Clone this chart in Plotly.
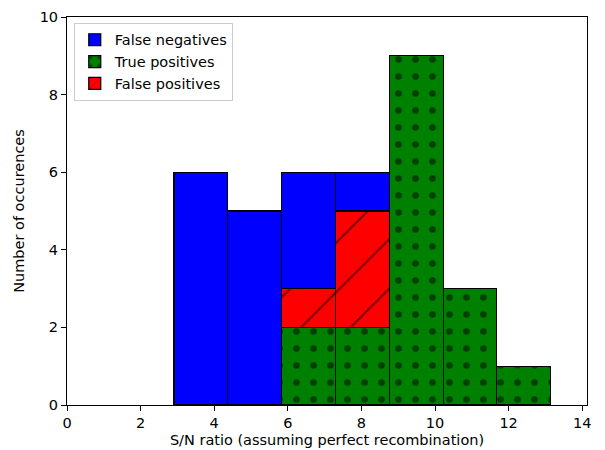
import plotly.graph_objects as go

bin_edges = [2.91, 4.37, 5.83, 7.30, 8.76, 10.22, 11.68, 13.14]
false_negatives = [6, 5, 3, 1, 0, 0, 0]
true_positives = [0, 0, 2, 2, 9, 3, 1]
false_positives = [0, 0, 1, 3, 0, 0, 0]

centers = [(a + b) / 2 for a, b in zip(bin_edges[:-1], bin_edges[1:])]
widths = [b - a for a, b in zip(bin_edges[:-1], bin_edges[1:])]

font = "DejaVu Sans"
fs = 14.5
fig = go.Figure()
fig.add_trace(go.Bar(
    x=centers, y=true_positives, width=widths, name="True positives", legendrank=2,
    marker=dict(color="#008000", line=dict(color="black", width=1.2),
                pattern=dict(shape=".", bgcolor="#008000", fgcolor="black",
                             size=17, solidity=0.12)),
))
fig.add_trace(go.Bar(
    x=centers, y=false_positives, width=widths, name="False positives", legendrank=3,
    marker=dict(color="#ff0000", line=dict(color="black", width=1.2),
                pattern=dict(shape="/", bgcolor="#ff0000", fgcolor="black",
                             size=35, solidity=0.06)),
))
fig.add_trace(go.Bar(
    x=centers, y=false_negatives, width=widths, name="False negatives", legendrank=1,
    marker=dict(color="#0000ff", line=dict(color="black", width=1.2)),
))

fig.update_layout(
    barmode="stack",
    width=597, height=442,
    margin=dict(l=59, r=18, t=9, b=45),
    paper_bgcolor="white", plot_bgcolor="white",
    font=dict(family=font, size=fs, color="black"),
    legend=dict(x=0.013, y=0.985, xanchor="left", yanchor="top",
                bgcolor="rgba(255,255,255,0.8)", bordercolor="#cccccc", borderwidth=1,
                traceorder="normal", font=dict(size=fs), itemwidth=30,
                tracegroupgap=0),
    xaxis=dict(range=[0, 14.13], tickvals=[0, 2, 4, 6, 8, 10, 12, 14],
               showline=True, mirror=True, linecolor="black", linewidth=1,
               ticks="outside", ticklen=5, tickcolor="black", showgrid=False, zeroline=False,
               automargin=False, tickfont=dict(size=fs),
               title=dict(text="S/N ratio (assuming perfect recombination)", standoff=4,
                          font=dict(size=fs))),
    yaxis=dict(range=[0, 10], tickvals=[0, 2, 4, 6, 8, 10],
               showline=True, mirror=True, linecolor="black", linewidth=1,
               ticks="outside", ticklen=5, tickcolor="black", showgrid=False, zeroline=False,
               automargin=False, tickfont=dict(size=fs),
               title=dict(text="Number of occurences", standoff=11, font=dict(size=fs))),
)
fig.write_html("out.html")
